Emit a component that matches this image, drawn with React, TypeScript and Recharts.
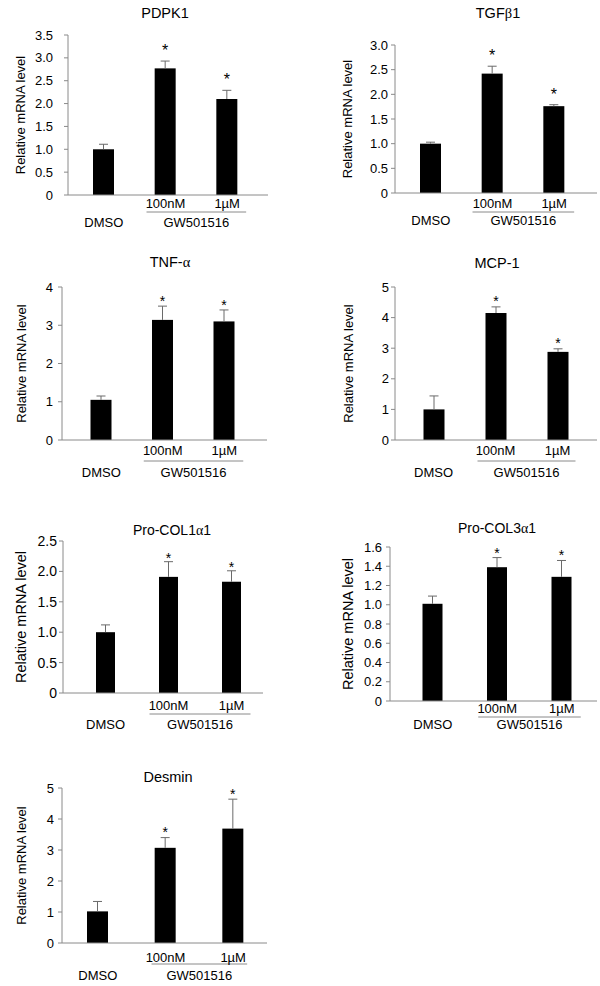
import { BarChart, Bar, XAxis, YAxis } from "recharts"

const FONT = "'Liberation Sans', Arial, sans-serif"
const SERIF = "'Liberation Serif', 'DejaVu Serif', serif"
const AXIS = "#8a8a8a"
const ERR = "#6a6a6a"

// categories
const doses = ["DMSO", "100nM", "1µM"]
const groupLabel = "GW501516"
const yLabel = "Relative mRNA level"
const significant = [false, true, true]

// values (mean, SEM)
const pdpk1Mean = [1.0, 2.77, 2.1]
const pdpk1Sem = [0.11, 0.16, 0.19]
const pdpk1Ticks = [0, 0.5, 1, 1.5, 2, 2.5, 3, 3.5]

const tgfb1Mean = [1.0, 2.42, 1.76]
const tgfb1Sem = [0.03, 0.15, 0.03]
const tgfb1Ticks = [0, 0.5, 1, 1.5, 2, 2.5, 3]

const tnfMean = [1.05, 3.14, 3.1]
const tnfSem = [0.1, 0.36, 0.3]
const tnfTicks = [0, 1, 2, 3, 4]

const mcp1Mean = [1.0, 4.15, 2.88]
const mcp1Sem = [0.44, 0.2, 0.1]
const mcp1Ticks = [0, 1, 2, 3, 4, 5]

const col1Mean = [1.0, 1.91, 1.83]
const col1Sem = [0.12, 0.25, 0.18]
const col1Ticks = [0, 0.5, 1, 1.5, 2, 2.5]

const col3Mean = [1.01, 1.39, 1.29]
const col3Sem = [0.08, 0.1, 0.17]
const col3Ticks = [0, 0.2, 0.4, 0.6, 0.8, 1, 1.2, 1.4, 1.6]

const desminMean = [1.02, 3.07, 3.69]
const desminSem = [0.32, 0.33, 0.95]
const desminTicks = [0, 1, 2, 3, 4, 5]

type Layout = {
  axisX: number; xEnd: number; top: number; zero: number
  pl: number; pr: number; gap: number; labelDist: number; labelSize: number; tickSize: number
  barSize: number; doseDy: number; lineDy: number; groupDy: number; ext: number
  starGap: number; starSize: number; titleX: number; titleY: number; titleSize: number
  dec: number
}

const panels: { title: string; mean: number[]; sem: number[]; ticks: number[]; lay: Layout }[] = [
  {
    title: "PDPK1", mean: pdpk1Mean, sem: pdpk1Sem, ticks: pdpk1Ticks,
    lay: { axisX: 68, xEnd: 268, top: 35, zero: 195, pl: 5, pr: 10, gap: 15, labelDist: 48, labelSize: 13, tickSize: 13,
      barSize: 21, doseDy: 12.5, lineDy: 17, groupDy: 31.5, ext: 19, starGap: 14.5, starSize: 16,
      titleX: 165, titleY: 13, titleSize: 14.5, dec: 1 },
  },
  {
    title: "TGFβ1", mean: tgfb1Mean, sem: tgfb1Sem, ticks: tgfb1Ticks,
    lay: { axisX: 395, xEnd: 597, top: 45, zero: 193, pl: 5, pr: 12, gap: 7, labelDist: 48, labelSize: 13, tickSize: 13,
      barSize: 21, doseDy: 14.5, lineDy: 19, groupDy: 31.5, ext: 20, starGap: 14, starSize: 16,
      titleX: 498, titleY: 13, titleSize: 14.5, dec: 1 },
  },
  {
    title: "TNF-α", mean: tnfMean, sem: tnfSem, ticks: tnfTicks,
    lay: { axisX: 62, xEnd: 267, top: 287, zero: 440, pl: 8.5, pr: 12, gap: 9, labelDist: 41, labelSize: 13, tickSize: 13,
      barSize: 21, doseDy: 14.5, lineDy: 21, groupDy: 36.5, ext: 19, starGap: 8, starSize: 14,
      titleX: 170, titleY: 262, titleSize: 14.5, dec: 0 },
  },
  {
    title: "MCP-1", mean: mcp1Mean, sem: mcp1Sem, ticks: mcp1Ticks,
    lay: { axisX: 395, xEnd: 597, top: 287, zero: 440, pl: 7.5, pr: 8.5, gap: 6, labelDist: 47, labelSize: 13, tickSize: 13,
      barSize: 21, doseDy: 14.5, lineDy: 21, groupDy: 36.5, ext: 18, starGap: 8.5, starSize: 14,
      titleX: 497, titleY: 263, titleSize: 14.5, dec: 0 },
  },
  {
    title: "Pro-COL1α1", mean: col1Mean, sem: col1Sem, ticks: col1Ticks,
    lay: { axisX: 63, xEnd: 263, top: 541, zero: 693, pl: 11, pr: 0, gap: 6, labelDist: 42, labelSize: 14.5, tickSize: 14,
      barSize: 19, doseDy: 16.5, lineDy: 21, groupDy: 35.5, ext: 19, starGap: 7, starSize: 14,
      titleX: 172, titleY: 530, titleSize: 14, dec: 1 },
  },
  {
    title: "Pro-COL3α1", mean: col3Mean, sem: col3Sem, ticks: col3Ticks,
    lay: { axisX: 390, xEnd: 597, top: 547, zero: 701, pl: 10.5, pr: 3, gap: 8, labelDist: 42, labelSize: 14.5, tickSize: 13,
      barSize: 20, doseDy: 11.5, lineDy: 16, groupDy: 27.5, ext: 19, starGap: 8, starSize: 14,
      titleX: 497, titleY: 528, titleSize: 14, dec: 1 },
  },
  {
    title: "Desmin", mean: desminMean, sem: desminSem, ticks: desminTicks,
    lay: { axisX: 62, xEnd: 267, top: 788, zero: 943, pl: 2, pr: 0, gap: 8, labelDist: 41, labelSize: 13, tickSize: 13,
      barSize: 21, doseDy: 18.5, lineDy: 21, groupDy: 36.5, ext: 14, starGap: 8.5, starSize: 14,
      titleX: 168, titleY: 777, titleSize: 14.5, dec: 0 },
  },
]

const Y_W = 60
const M_TOP = 10
const M_RIGHT = 5
const X_H = 45

function Title({ text, lay }: { text: string; lay: Layout }) {
  const parts = text.split(/([αβ])/)
  return (
    <div
      style={{
        position: "absolute", left: lay.titleX, top: lay.titleY, transform: "translate(-50%, -50%)",
        fontFamily: FONT, fontSize: lay.titleSize, lineHeight: 1, whiteSpace: "nowrap", color: "#000",
      }}
    >
      {parts.map((s, i) => (/[αβ]/.test(s) ? <span key={i} style={{ fontFamily: SERIF }}>{s}</span> : s))}
    </div>
  )
}

function doseTick(lay: Layout) {
  const bw = (lay.xEnd - lay.axisX - lay.pl - lay.pr) / 3
  return (props: any) => {
    const { x, y, payload } = props
    const i = props.index ?? payload.index
    const txt = { textAnchor: "middle" as const, fontSize: 13, fontFamily: FONT, fill: "#000" }
    if (i === 0) {
      return <text x={x} y={y + lay.groupDy} {...txt}>{payload.value}</text>
    }
    return (
      <g>
        <text x={x} y={y + lay.doseDy} {...txt}>{payload.value}</text>
        {i === 1 && (
          <g>
            <line x1={x - lay.ext} x2={x + bw + lay.ext} y1={y + lay.lineDy} y2={y + lay.lineDy} stroke={AXIS} />
            <text x={x + bw / 2} y={y + lay.groupDy} {...txt}>{groupLabel}</text>
          </g>
        )}
      </g>
    )
  }
}

function barShape(lay: Layout) {
  return (p: any) => {
    const { x, y, width, height, payload } = p
    const k = height / payload.mean
    const top = y - payload.sem * k
    const cx = x + width / 2
    return (
      <g>
        <rect x={x} y={y} width={width} height={height} fill="#000" />
        <line x1={cx} x2={cx} y1={y} y2={top} stroke={ERR} />
        <line x1={cx - 4.5} x2={cx + 4.5} y1={top} y2={top} stroke={ERR} />
        {payload.star && (
          <text x={cx} y={top - lay.starGap + 0.57 * lay.starSize} textAnchor="middle"
            fontSize={lay.starSize} fontFamily={FONT} fill="#000">*</text>
        )}
      </g>
    )
  }
}

function Panel({ title, mean, sem, ticks, lay }: (typeof panels)[number]) {
  const rows = doses.map((d, i) => ({ dose: d, mean: mean[i], sem: sem[i], star: significant[i] }))
  const plotW = lay.xEnd - lay.axisX
  const plotH = lay.zero - lay.top
  const max = ticks[ticks.length - 1]
  return (
    <>
      <Title text={title} lay={lay} />
      <div style={{ position: "absolute", left: lay.axisX - Y_W, top: lay.top - M_TOP }}>
        <BarChart
          width={Y_W + plotW + M_RIGHT}
          height={M_TOP + plotH + X_H}
          data={rows}
          margin={{ top: M_TOP, right: M_RIGHT, bottom: 0, left: 0 }}
          style={{ overflow: "visible" }}
        >
          <XAxis
            dataKey="dose" type="category" interval={0} height={X_H}
            tickLine={false} tickSize={0} tickMargin={0}
            axisLine={{ stroke: AXIS }}
            padding={{ left: lay.pl, right: lay.pr }}
            tick={doseTick(lay)}
          />
          <YAxis
            type="number" domain={[0, max]} ticks={ticks} interval={0} width={Y_W}
            tickFormatter={(v: number) => (v === 0 ? "0" : v.toFixed(lay.dec))}
            axisLine={{ stroke: AXIS }} tickLine={{ stroke: AXIS }}
            tickSize={4} tickMargin={lay.gap - 4}
            tick={{ fill: "#000", fontSize: lay.tickSize, fontFamily: FONT }}
            label={{
              value: yLabel, angle: -90, position: "insideLeft", offset: Y_W - lay.labelDist,
              style: { textAnchor: "middle", fontSize: lay.labelSize, fill: "#000", fontFamily: FONT },
            }}
          />
          <Bar dataKey="mean" fill="#000" barSize={lay.barSize} isAnimationActive={false} shape={barShape(lay)} />
        </BarChart>
      </div>
    </>
  )
}

export default function App() {
  return (
    <div style={{ position: "absolute", left: 0, top: 0, width: 600, height: 986, background: "#fff", fontFamily: FONT }}>
      {panels.map((p) => (
        <Panel key={p.title} {...p} />
      ))}
    </div>
  )
}
